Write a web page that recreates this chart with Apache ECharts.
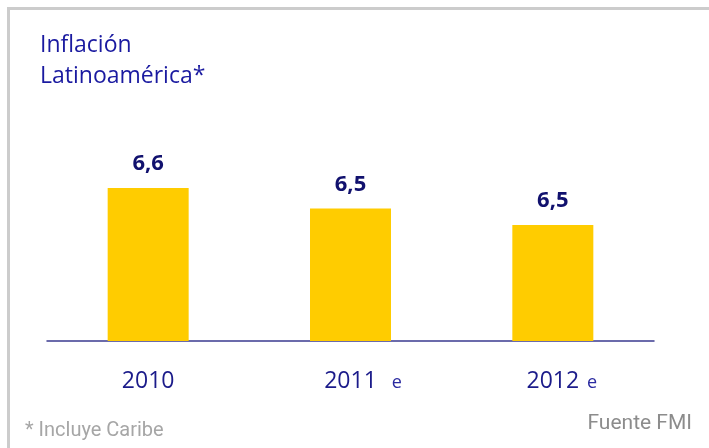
<!DOCTYPE html>
<html><head><meta charset="utf-8">
<script src="https://cdn.jsdelivr.net/npm/echarts@6/dist/echarts.min.js"></script>
<style>html,body{margin:0;padding:0;background:#fff}#c{width:709px;height:448px}</style>
</head><body><div id="c"></div>
<script>
var categories = ['2010', '2011', '2012'];
var suffixes = ['', 'e', 'e'];
var values = [6.6, 6.52, 6.455];
var titleLines = ['Inflación', 'Latinoamérica*'];
var footnote = '* Incluye Caribe';
var source = 'Fuente FMI';

var chart = echarts.init(document.getElementById('c'), null, {renderer: 'canvas'});
var navy = '#1b1b8a';
chart.setOption({
  animation: false,
  grid: {left: 47, right: 55, top: 86, bottom: 107},
  xAxis: {
    type: 'category', data: categories,
    axisLine: {lineStyle: {color: '#3b3b90', width: 1.5}},
    axisTick: {show: false},
    axisLabel: {
      margin: 29,
      formatter: function (v, i) {
        if (!suffixes[i]) return '{y|' + v + '}';
        return '{p' + i + '|}{y|' + v + '}{e' + i + '|' + suffixes[i] + '}';
      },
      rich: {
        y: {fontFamily: 'Open Sans', fontSize: 23, color: navy},
        p1: {width: 25}, e1: {width: 25, align: 'right', fontFamily: 'Open Sans', fontSize: 18, color: '#2a2aa0', padding: [3, 0, 0, 0]},
        p2: {width: 18}, e2: {width: 18, align: 'right', fontFamily: 'Open Sans', fontSize: 18, color: '#2a2aa0', padding: [3, 0, 0, 0]}
      }
    }
  },
  yAxis: {type: 'value', min: 6, max: 7, show: false, splitLine: {show: false}},
  series: [{
    type: 'bar', data: values, barWidth: 81,
    itemStyle: {color: '#ffcc00'},
    label: {
      show: true, position: 'top', distance: 13,
      fontFamily: 'Open Sans', fontWeight: 'bold', fontSize: 22, color: '#11116e',
      formatter: function (p) { return p.value.toFixed(1).replace('.', ','); }
    }
  }],
  graphic: [
    {type: 'rect', shape: {x: 7, y: 7, width: 702, height: 3}, style: {fill: '#cccccc'}, silent: true},
    {type: 'rect', shape: {x: 7, y: 7, width: 3, height: 441}, style: {fill: '#cccccc'}, silent: true},
    {type: 'text', left: 40, top: 30, style: {text: titleLines.join('\n'), fontFamily: 'Open Sans', fontSize: 23, lineHeight: 31, fill: '#1a1aa0'}},
    {type: 'text', left: 25, top: 421, style: {text: footnote, fontFamily: 'Roboto', fontSize: 20, fill: '#a6a6a6'}},
    {type: 'text', right: 17, top: 413, style: {text: source, fontFamily: 'Roboto', fontSize: 21, fill: '#8c8c8c'}}
  ]
});
</script></body></html>
